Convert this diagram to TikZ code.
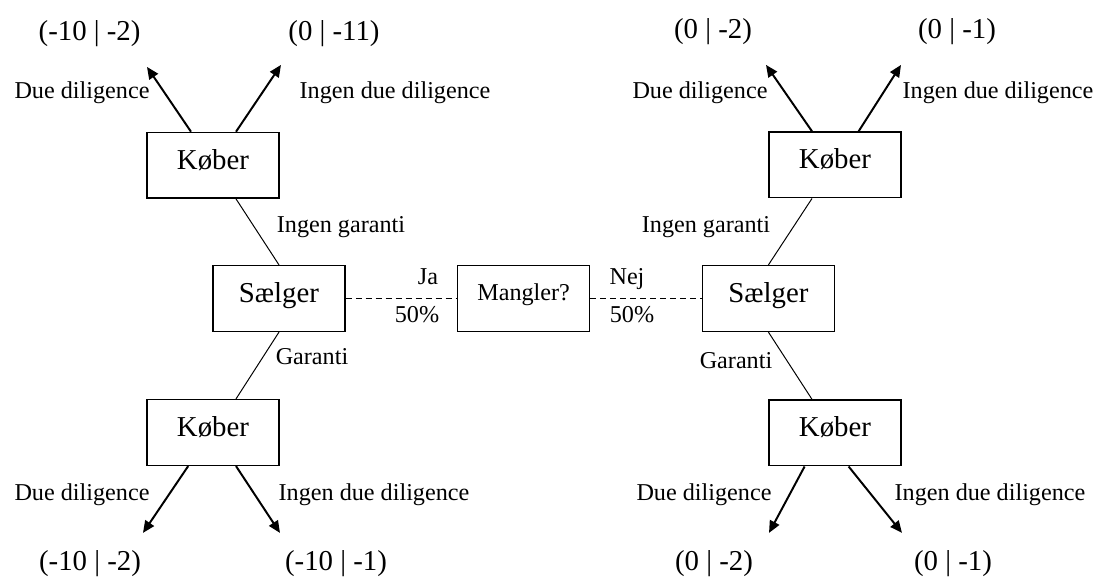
\documentclass[tikz,border=0pt]{standalone}
\usepackage{fontspec}
\setmainfont{Liberation Serif}
\usetikzlibrary{arrows.meta}
\tikzset{
  box/.style={draw, line width=1.1pt, minimum width=3.3cm, minimum height=1.64cm,
    inner sep=0pt, text depth=0.3cm, font=\fontsize{20.5}{24}\selectfont},
  lbl/.style={anchor=base, inner sep=0pt, font=\fontsize{17.2}{20}\selectfont},
  payoff/.style={anchor=base, inner sep=0pt, font=\fontsize{20.5}{24}\selectfont},
  move/.style={line width=0.7pt},
  chance/.style={line width=1pt, dash pattern=on 4.3pt off 2.8pt},
  choice/.style={line width=1.4pt, -{Triangle[length=0.3cm, width=0.26cm]}},
}
\begin{document}
\begin{tikzpicture}
      \useasboundingbox (0, -6.9375) rectangle (27.45, 7.4625);
      % chance node and the two sellers
      \node [box, font=\fontsize{17.2}{20}\selectfont] (mangler) at (13.09, 0) {Mangler?};
      \node [box] (saelgerL) at (6.975, 0) {Sælger};
      \node [box] (saelgerR) at (19.21, 0) {Sælger};
      % buyers
      \node [box] (koeberLT) at (5.325, 3.33) {Køber};
      \node [box] (koeberLB) at (5.325, -3.35) {Køber};
      \node [box] (koeberRT) at (20.875, 3.34) {Køber};
      \node [box] (koeberRB) at (20.875, -3.36) {Køber};
      % arrow tips
      \coordinate (tipLT1) at (3.675, 5.79);
      \coordinate (tipLT2) at (7.025, 5.84);
      \coordinate (tipRT1) at (19.15, 5.84);
      \coordinate (tipRT2) at (22.525, 5.84);
      \coordinate (tipLB1) at (3.575, -5.86);
      \coordinate (tipLB2) at (7.0, -5.86);
      \coordinate (tipRB1) at (19.225, -5.86);
      \coordinate (tipRB2) at (22.55, -5.86);

      \draw [chance] (saelgerL.east) -- (mangler.west);
      \draw [chance] (mangler.east) -- (saelgerR.west);
      \node [lbl] (ja) at (10.7, 0.34) {Ja};
      \node [lbl] (pctL) at (10.425, -0.61) {50\%};
      \node [lbl] (nej) at (15.675, 0.34) {Nej};
      \node [lbl] (pctR) at (15.8, -0.61) {50\%};

      \draw [move] (saelgerL.north) -- ([xshift=0.575cm]koeberLT.south);
      \draw [move] (saelgerL.south) -- ([xshift=0.575cm]koeberLB.north);
      \draw [move] (saelgerR.north) -- ([xshift=-0.575cm]koeberRT.south);
      \draw [move] (saelgerR.south) -- ([xshift=-0.575cm]koeberRB.north);
      \node [lbl] (igL) at (8.525, 1.66) {Ingen garanti};
      \node [lbl] (gL) at (7.8, -1.66) {Garanti};
      \node [lbl] (igR) at (17.65, 1.66) {Ingen garanti};
      \node [lbl] (gR) at (18.4, -1.74) {Garanti};

      \draw [choice] ([xshift=-0.55cm]koeberLT.north) -- (tipLT1);
      \draw [choice] ([xshift=0.575cm]koeberLT.north) -- (tipLT2);
      \draw [choice] ([xshift=-0.575cm]koeberRT.north) -- (tipRT1);
      \draw [choice] ([xshift=0.59cm]koeberRT.north) -- (tipRT2);
      \draw [choice] ([xshift=-0.62cm]koeberLB.south) -- (tipLB1);
      \draw [choice] ([xshift=0.575cm]koeberLB.south) -- (tipLB2);
      \draw [choice] ([xshift=-0.76cm]koeberRB.south) -- (tipRB1);
      \draw [choice] ([xshift=0.34cm]koeberRB.south) -- (tipRB2);

      \node [lbl] (ddLT) at (2.05, 4.99) {Due diligence};
      \node [lbl] (iddLT) at (9.875, 4.99) {Ingen due diligence};
      \node [lbl] (ddRT) at (17.5, 4.99) {Due diligence};
      \node [lbl] (iddRT) at (24.95, 4.99) {Ingen due diligence};
      \node [lbl] (ddLB) at (2.05, -5.04) {Due diligence};
      \node [lbl] (iddLB) at (9.35, -5.04) {Ingen due diligence};
      \node [lbl] (ddRB) at (17.6, -5.04) {Due diligence};
      \node [lbl] (iddRB) at (24.75, -5.04) {Ingen due diligence};

      % payoffs
      \node [payoff] (pLT1) at (2.24, 6.46) {(-10 | -2)};
      \node [payoff] (pLT2) at (8.35, 6.46) {(0 | -11)};
      \node [payoff] (pRT1) at (17.825, 6.5) {(0 | -2)};
      \node [payoff] (pRT2) at (23.925, 6.5) {(0 | -1)};
      \node [payoff] (pLB1) at (2.25, -6.79) {(-10 | -2)};
      \node [payoff] (pLB2) at (8.4, -6.79) {(-10 | -1)};
      \node [payoff] (pRB1) at (17.85, -6.79) {(0 | -2)};
      \node [payoff] (pRB2) at (23.825, -6.79) {(0 | -1)};
\end{tikzpicture}
\end{document}
